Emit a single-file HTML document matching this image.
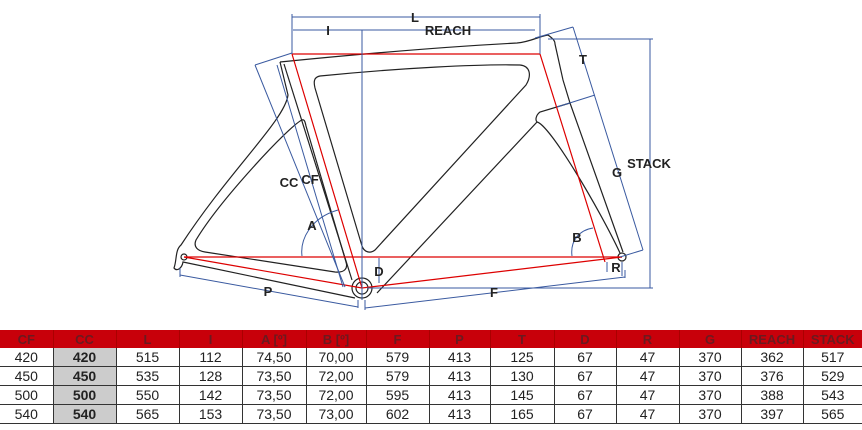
<!DOCTYPE html>
<html><head><meta charset="utf-8"><style>
body{margin:0;width:862px;height:430px;background:#fff;overflow:hidden;font-family:"Liberation Sans",sans-serif}
svg{position:absolute;left:0;top:0}
table{position:absolute;left:0;top:330px;border-collapse:collapse;table-layout:fixed;width:862px}
td,th{font-size:14px;text-align:center;padding:0;height:18px;border-left:1.5px solid #333;color:#222}
td:first-child,th:first-child{border-left:none}
th{background:#c8000a;color:#6a1a20;font-weight:bold;height:18px;border-left:1px solid #a00;font-size:13px}
tr.r td{border-bottom:1.5px solid #333;height:18px}
td.g{background:#ccc;font-weight:bold}
</style></head><body>
<svg width="862" height="330" viewBox="0 0 862 330">
<g fill="none" stroke="#222" stroke-width="1.2">
<path d="M280,62 C380,52 460,46 517,43 C530,42 540,36 548,35 C552,38 555,40 555,44 L563,80 L570,103 L623,252"/>
<path d="M280,62 L288,95 C285,120 230,170 181,245 C175,250 177,260 174,268 C177,272 182,268 183,262 L355,298"/>
<path d="M302,120 C290,125 220,200 196,240 C193,247 198,251 205,252 L335,272 C345,273 348,268 346,262 L306,126 C305,121 304,119 302,120 Z"/>
<path d="M320,76 C400,68 480,64 520,65 C530,66 532,75 526,85 L375,250 C370,254 364,252 362,246 L315,88 C313,80 315,77 320,76 Z"/>
<path d="M284,64 L352,280"/>
<path d="M570,103 L540,112 C536,115 535,120 537,122 L377,293"/>
<path d="M537,122 C550,125 600,210 620,253"/>
<circle cx="362" cy="288" r="10"/><circle cx="362" cy="288" r="6"/>
<circle cx="622" cy="257" r="4"/><circle cx="184" cy="257" r="3"/>
</g>
<g fill="none" stroke="#d00" stroke-width="1.2">
<path d="M292,54 H540"/><path d="M184,257 H622"/>
<path d="M292,54 L362,288 L622,257"/><path d="M184,257 L362,288"/>
<path d="M540,54 L605,262"/>
</g>
<g fill="none" stroke="#3a5aa0" stroke-width="1">
<path d="M292,17 H540 M292,14 V54 M540,14 V54"/>
<path d="M293,30 H535 M362,30 V300"/>
<path d="M255,65 L292,53 M255,65 L345,287"/>
<path d="M277,65 L343,287"/>
<path d="M573,27 L643,250 M535,38 L573,27 M557,107 L595,95 M620,257 L643,250"/>
<path d="M548,39 H653 M650,39 V288 M367,288 H653"/>
<path d="M365,308 L625,277 M625,270 V278 M365,300 V310"/>
<path d="M180,275 L358,307 M180,268 V277 M358,300 V308"/>
<path d="M607,262 V272 M622,262 V276"/>
<path d="M379,258 V283"/>
<path d="M302,256 C300,240 310,218 338,210"/>
<path d="M572,256 C570,240 580,230 593,228"/>
</g>
<g font-family="Liberation Sans,sans-serif" font-weight="bold" font-size="13" fill="#222" text-anchor="middle">
<text x="415" y="22">L</text><text x="328" y="35">I</text><text x="448" y="35">REACH</text>
<text x="583" y="64">T</text><text x="649" y="168">STACK</text><text x="617" y="177">G</text>
<text x="289" y="187">CC</text><text x="310" y="184">CF</text>
<text x="312" y="230">A</text><text x="577" y="242">B</text>
<text x="379" y="276">D</text><text x="616" y="272">R</text>
<text x="268" y="296">P</text><text x="494" y="297">F</text>
</g>
</svg>
<table>
<colgroup><col style="width:53px"><col style="width:63px"><col style="width:63px"><col style="width:63px"><col style="width:64px"><col style="width:60px"><col style="width:63px"><col style="width:61px"><col style="width:64px"><col style="width:62px"><col style="width:63px"><col style="width:62px"><col style="width:62px"><col style="width:59px"></colgroup>
<tr><th>CF</th><th>CC</th><th>L</th><th>I</th><th>A [º]</th><th>B [º]</th><th>F</th><th>P</th><th>T</th><th>D</th><th>R</th><th>G</th><th>REACH</th><th>STACK</th></tr>
<tr class="r"><td>420</td><td class="g">420</td><td>515</td><td>112</td><td>74,50</td><td>70,00</td><td>579</td><td>413</td><td>125</td><td>67</td><td>47</td><td>370</td><td>362</td><td>517</td></tr>
<tr class="r"><td>450</td><td class="g">450</td><td>535</td><td>128</td><td>73,50</td><td>72,00</td><td>579</td><td>413</td><td>130</td><td>67</td><td>47</td><td>370</td><td>376</td><td>529</td></tr>
<tr class="r"><td>500</td><td class="g">500</td><td>550</td><td>142</td><td>73,50</td><td>72,00</td><td>595</td><td>413</td><td>145</td><td>67</td><td>47</td><td>370</td><td>388</td><td>543</td></tr>
<tr class="r"><td>540</td><td class="g">540</td><td>565</td><td>153</td><td>73,50</td><td>73,00</td><td>602</td><td>413</td><td>165</td><td>67</td><td>47</td><td>370</td><td>397</td><td>565</td></tr>
</table>
</body></html>
